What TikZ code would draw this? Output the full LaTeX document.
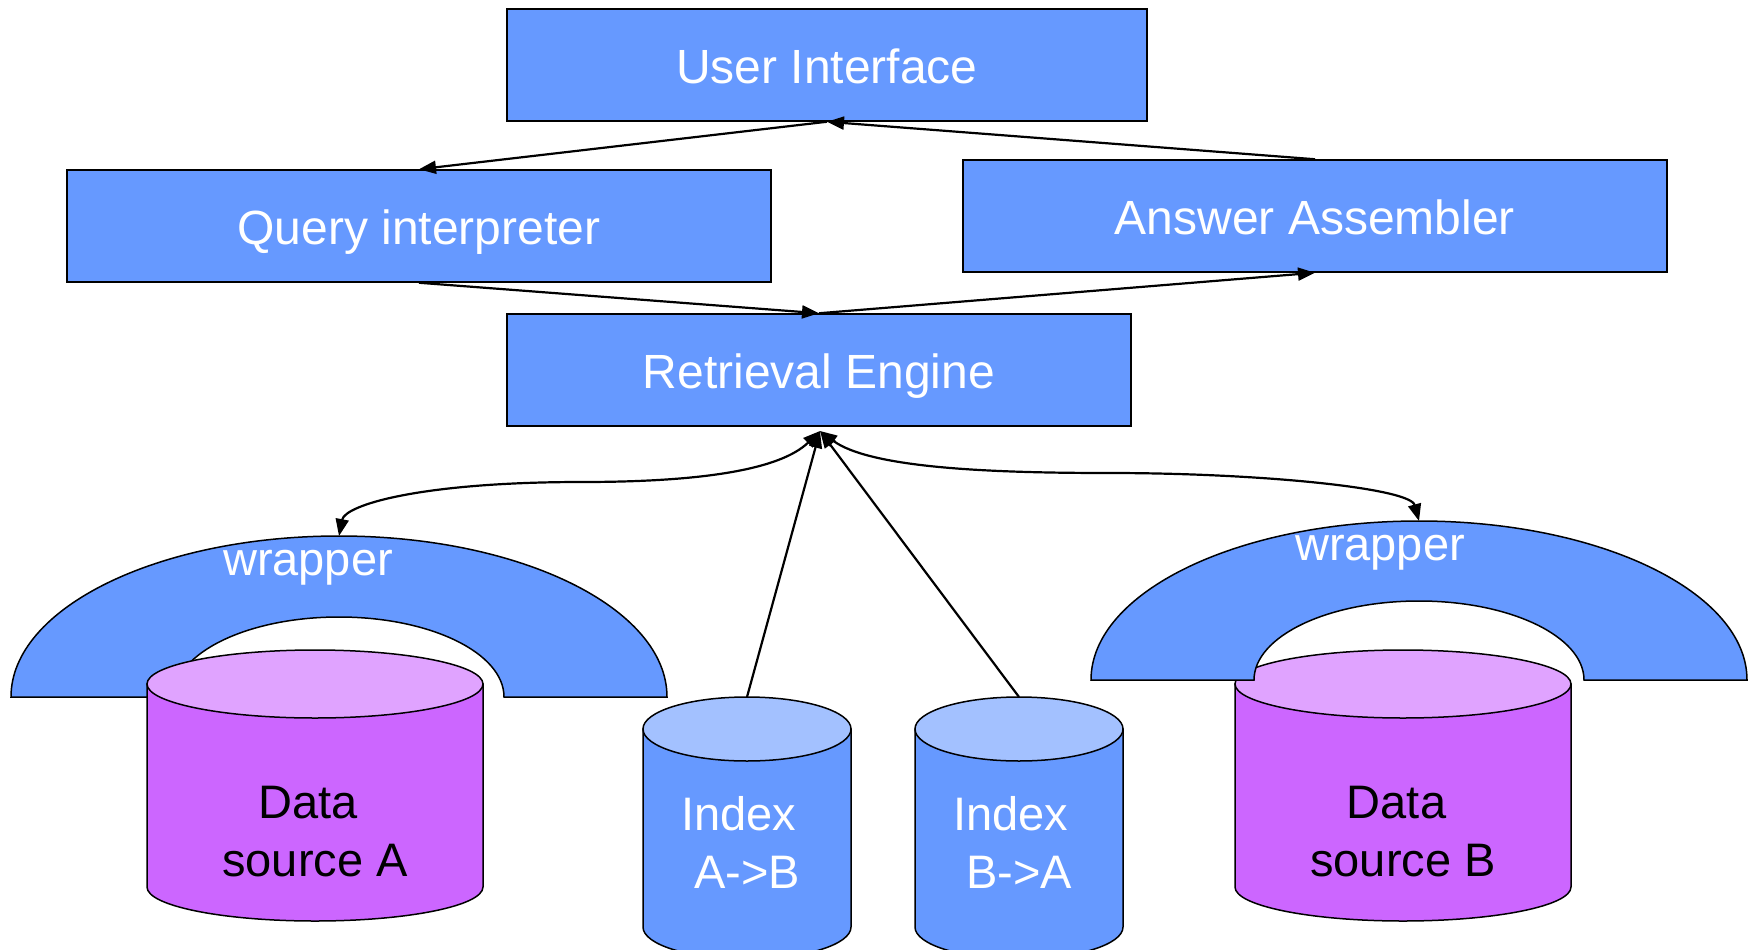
\documentclass[tikz,border=0pt]{standalone}
\usepackage{fontspec}
\setmainfont{Liberation Sans}
\usetikzlibrary{arrows.meta}
\definecolor{boxblue}{HTML}{6699FF}
\definecolor{idxtop}{HTML}{A3C1FF}
\definecolor{dsside}{HTML}{CC66FF}
\definecolor{dstop}{HTML}{E0A3FF}

% cylinder: centre x, top ellipse y, bottom ellipse y, half width, ellipse radius, side colour, top colour
\newcommand{\drumshape}[7]{%
  \filldraw[fill=#6, line width=1.5pt] (#1-#4,#2) -- (#1-#4,#3)
    arc[start angle=180, end angle=0, x radius=#4, y radius=#5] -- (#1+#4,#2) -- cycle;
  \filldraw[fill=#7, line width=1.5pt] (#1,#2) ellipse[x radius=#4, y radius=#5];
}
% half ring: centre x, base y, outer radii, inner radii
\newcommand{\archshape}[6]{%
  \filldraw[fill=boxblue, line width=1.5pt] (#1-#3,#2)
    arc[start angle=180, end angle=360, x radius=#3, y radius=#4] -- (#1+#5,#2)
    arc[start angle=0, end angle=-180, x radius=#5, y radius=#6] -- cycle;
}

\begin{document}
\begin{tikzpicture}[x=1pt, y=-1pt,
  box/.style={draw=black, line width=1.5pt, fill=boxblue, text=white,
    font=\fontsize{48}{56}\selectfont, inner sep=0pt, text height=37pt, text depth=0pt},
  lbl/.style={font=\fontsize{47}{58}\selectfont, align=center, inner sep=0pt},
  link/.style={draw=black, line width=2.2pt, -{Triangle[length=17pt,width=13pt]}},
  both/.style={draw=black, line width=2.2pt, {Triangle[length=17pt,width=13pt]}-{Triangle[length=17pt,width=13pt]}}]
\useasboundingbox (0,0) rectangle (1756,950);

% boxes
\node[box, minimum width=640pt, minimum height=112pt] (ui) at (827,65) {User Interface};
\node[box, minimum width=704pt, minimum height=112pt] (qi) at (419,226) {Query interpreter};
\node[box, minimum width=704pt, minimum height=112pt] (aa) at (1315,216) {Answer Assembler};
\node[box, minimum width=624pt, minimum height=112pt] (re) at (819,370) {Retrieval Engine};

% wrapper A with data source A in front
\archshape{339}{697}{328}{161}{165}{80}
\node[lbl, text=white] (wla) at (308,568) {wrapper};
\drumshape{315}{684}{887}{168}{34}{dsside}{dstop}
\node[lbl, text=black] (dsa) at (315,832) {Data\kern13pt\\source A};

% data source B behind wrapper B
\drumshape{1403}{684}{887}{168}{34}{dsside}{dstop}
\archshape{1419}{680}{328}{159}{165}{79}
\node[lbl, text=white] (wlb) at (1380,553) {wrapper};
\node[lbl, text=black] (dsb) at (1403,832) {Data\kern13pt\\source B};

% index cylinders
\drumshape{747}{729}{927}{104}{32}{boxblue}{idxtop}
\node[lbl, text=white] (ixa) at (747,842) {Index\kern16pt\\A->B};
\drumshape{1019}{729}{927}{104}{32}{boxblue}{idxtop}
\node[lbl, text=white] (ixb) at (1019,842) {Index\kern16pt\\B->A};

% connection points
\coordinate (wa) at (339,536);
\coordinate (wb) at (1419,521);
\coordinate (ia) at (747,697);
\coordinate (ib) at (1019,697);
\coordinate (rb) at (820,431);
\coordinate (mida) at (582,482);
\coordinate (midb) at (1109,473);

% connectors
\draw[link] (ui.south) -- (qi.north);
\draw[link] (aa.north) -- (ui.south);
\draw[link] (qi.south) -- (re.north);
\draw[link] (re.north) -- (aa.south);
\draw[both] (rb) .. controls (780,470) and (700,482) .. (mida)
  .. controls (420,482) and (345,505) .. (wa);
\draw[both] (rb) .. controls (870,468) and (990,473) .. (midb)
  .. controls (1260,473) and (1410,488) .. (wb);
\draw[link] (ia) -- (rb);
\draw[link] (ib) -- (rb);
\end{tikzpicture}
\end{document}
